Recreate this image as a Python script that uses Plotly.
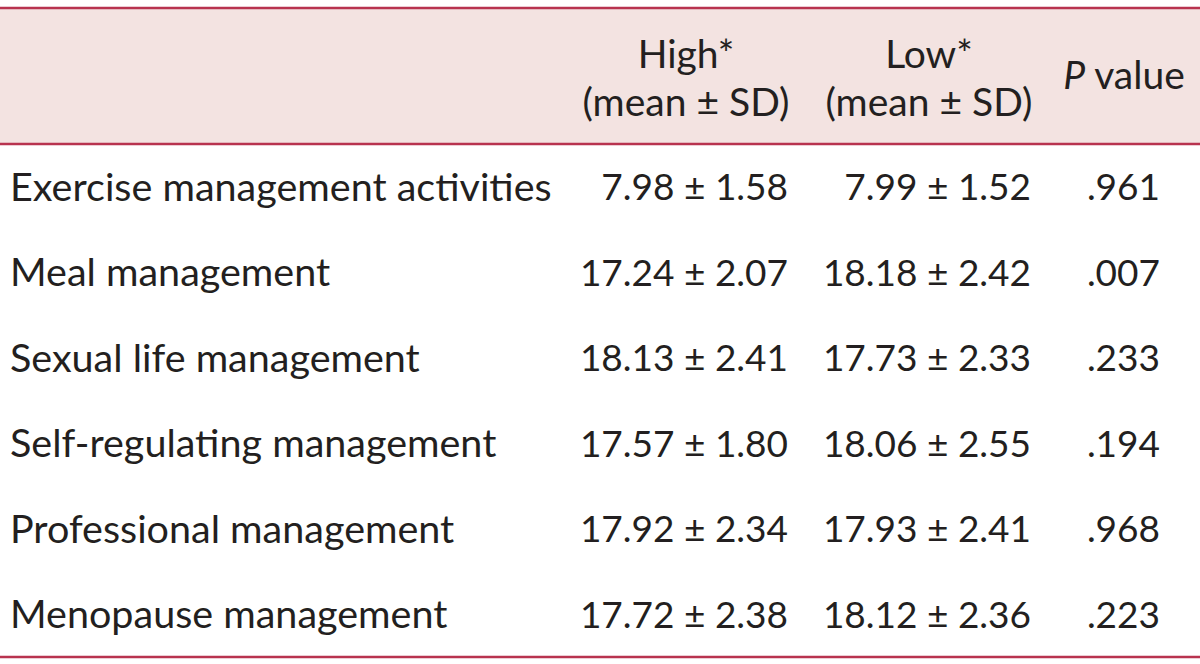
import plotly.graph_objects as go

# ---- data ----
categories = [
    "Exercise management activities",
    "Meal management",
    "Sexual life management",
    "Self-regulating management",
    "Professional management",
    "Menopause management",
]
high_mean = [7.98, 17.24, 18.13, 17.57, 17.92, 17.72]
high_sd = [1.58, 2.07, 2.41, 1.80, 2.34, 2.38]
low_mean = [7.99, 18.18, 17.73, 18.06, 17.93, 18.12]
low_sd = [1.52, 2.42, 2.33, 2.55, 2.41, 2.36]
p_values = [".961", ".007", ".233", ".194", ".968", ".223"]
header_high = ["High*", "(mean ± SD)"]
header_low = ["Low*", "(mean ± SD)"]
header_p = "<i>P</i> value"

# ---- style ----
W, H = 1200, 664
FONT = "Lato"
TXT = "#231f20"
LINE = "#b8334f"
FILL = "#f3e3e1"
top_y, head_y, bot_y = 8, 144, 657
row_h = (bot_y - head_y) / len(categories)
y_shift = 4
x_label = 10
x_high = 788
x_low = 1031
x_p = 1160
x_high_c = 686
x_low_c = 929
x_p_c = 1124

row_y = [head_y + (i + 0.5) * row_h + y_shift for i in range(len(categories))]

fig = go.Figure()
font_lab = dict(family=FONT, size=39.5, color=TXT)
font_num = dict(family=FONT, size=37, color=TXT)
font_head = dict(family=FONT, size=39, color=TXT)

fig.add_trace(go.Scatter(x=[x_label] * len(categories), y=row_y, text=categories,
                         mode="text", textposition="middle right", textfont=font_lab,
                         hoverinfo="skip", showlegend=False))
fig.add_trace(go.Scatter(x=[x_high] * len(categories), y=row_y,
                         text=[f"{m:.2f} ± {s:.2f}" for m, s in zip(high_mean, high_sd)],
                         mode="text", textposition="middle left", textfont=font_num,
                         hoverinfo="skip", showlegend=False))
fig.add_trace(go.Scatter(x=[x_low] * len(categories), y=row_y,
                         text=[f"{m:.2f} ± {s:.2f}" for m, s in zip(low_mean, low_sd)],
                         mode="text", textposition="middle left", textfont=font_num,
                         hoverinfo="skip", showlegend=False))
fig.add_trace(go.Scatter(x=[x_p] * len(categories), y=row_y, text=p_values,
                         mode="text", textposition="middle left", textfont=font_num,
                         hoverinfo="skip", showlegend=False))

# header
fig.add_trace(go.Scatter(x=[x_high_c, x_high_c], y=[58, 106], text=header_high,
                         mode="text", textposition="middle center", textfont=font_head,
                         hoverinfo="skip", showlegend=False))
fig.add_trace(go.Scatter(x=[x_low_c, x_low_c], y=[58, 106], text=header_low,
                         mode="text", textposition="middle center", textfont=font_head,
                         hoverinfo="skip", showlegend=False))
fig.add_trace(go.Scatter(x=[x_p_c], y=[79], text=[header_p],
                         mode="text", textposition="middle center", textfont=font_head,
                         hoverinfo="skip", showlegend=False))

fig.add_shape(type="rect", x0=0, x1=W, y0=top_y, y1=head_y, fillcolor=FILL,
              line=dict(width=0), layer="below")
for y in (top_y, head_y, bot_y):
    fig.add_shape(type="line", x0=0, x1=W, y0=y, y1=y, line=dict(color=LINE, width=2.5))

fig.update_layout(
    width=W, height=H, margin=dict(l=0, r=0, t=0, b=0),
    paper_bgcolor="white", plot_bgcolor="white",
    xaxis=dict(range=[0, W], visible=False, fixedrange=True),
    yaxis=dict(range=[H, 0], visible=False, fixedrange=True),
)
fig.write_html("out.html", config={"displayModeBar": False},
               post_script="document.body.style.margin='0';document.body.style.overflow='hidden';")
